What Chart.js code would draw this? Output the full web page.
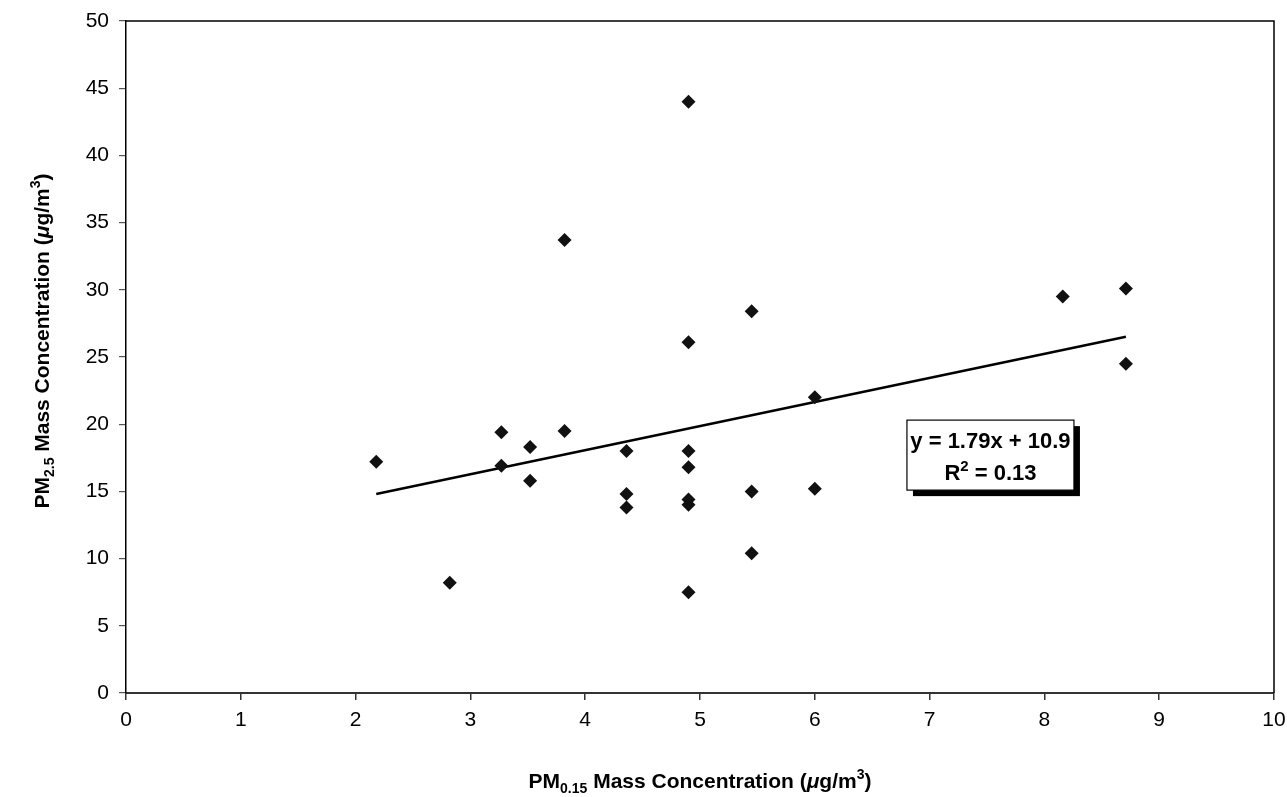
<!DOCTYPE html>
<html>
<head>
<meta charset="utf-8">
<script src="https://cdn.jsdelivr.net/npm/chart.js@4"></script>
<style>
  html, body { margin: 0; padding: 0; background: #fff; }
  #wrap { width: 1287px; height: 797px; }
</style>
</head>
<body>
<div id="wrap"><canvas id="PmChart"></canvas></div>
<script>
// PM0.15 vs PM2.5 mass concentration (ug/m3)
const pm015 = [2.18, 2.82, 3.27, 3.27, 3.52, 3.52, 3.82, 3.82, 4.36, 4.36, 4.36,
  4.90, 4.90, 4.90, 4.90, 4.90, 4.90, 4.90, 5.45, 5.45, 5.45, 6.00, 6.00, 8.16, 8.71, 8.71];
const pm25 = [17.2, 8.2, 19.4, 16.9, 18.3, 15.8, 33.7, 19.5, 18.0, 14.8, 13.8,
  44.0, 26.1, 18.0, 16.8, 14.4, 14.0, 7.5, 28.4, 15.0, 10.4, 22.0, 15.2, 29.5, 30.1, 24.5];

// linear fit y = 1.79x + 10.9, drawn over the data range
const trendX = [2.18, 8.71];
const trendY = [14.8, 26.5];
const fitLabel = "y = 1.79x + 10.9";
const r2Label = " = 0.13";

const xTicks = [0, 1, 2, 3, 4, 5, 6, 7, 8, 9, 10];
const yTicks = [0, 5, 10, 15, 20, 25, 30, 35, 40, 45, 50];

const fontFam = "'Liberation Sans', Arial, Helvetica, sans-serif";

// draws a run of text pieces, some as sub/superscript, centred on x
function drawRich(ctx, parts, cx, baseY, size) {
  const small = Math.round(size * 0.68);
  let total = 0;
  parts.forEach((p) => {
    const fs = p.s ? small : size;
    ctx.font = `${p.i ? "italic " : ""}bold ${fs}px ${fontFam}`;
    p.w = ctx.measureText(p.t).width;
    total += p.w;
  });
  let x = cx - total / 2;
  parts.forEach((p) => {
    const fs = p.s ? small : size;
    ctx.font = `${p.i ? "italic " : ""}bold ${fs}px ${fontFam}`;
    let y = baseY;
    if (p.s === "sub") y += size * 0.22;
    if (p.s === "sup") y -= size * 0.42;
    ctx.fillText(p.t, x, y);
    x += p.w;
  });
}

const extras = {
  id: "extras",
  afterDraw(chart) {
    const ctx = chart.ctx;
    const a = chart.chartArea;
    const xs = chart.scales.x;
    const ys = chart.scales.y;
    ctx.save();

    // plot frame, top and right
    ctx.strokeStyle = "#000";
    ctx.lineWidth = 1.5;
    ctx.beginPath();
    ctx.moveTo(a.left, a.top);
    ctx.lineTo(a.right, a.top);
    ctx.lineTo(a.right, a.bottom);
    ctx.stroke();

    ctx.fillStyle = "#000";
    ctx.textAlign = "left";
    ctx.textBaseline = "alphabetic";

    // x title
    drawRich(ctx, [
      { t: "PM" }, { t: "0.15", s: "sub" }, { t: " Mass Concentration (" },
      { t: "\u03bc", i: true }, { t: "g/m" }, { t: "3", s: "sup" }, { t: ")" },
    ], (a.left + a.right) / 2, 788, 21);

    // y title
    ctx.save();
    ctx.translate(49, 341);
    ctx.rotate(-Math.PI / 2);
    drawRich(ctx, [
      { t: "PM" }, { t: "2.5", s: "sub" }, { t: " Mass Concentration (" },
      { t: "\u03bc", i: true }, { t: "g/m" }, { t: "3", s: "sup" }, { t: ")" },
    ], 0, 0, 21);
    ctx.restore();

    // regression label box
    const cx = xs.getPixelForValue(7.53);
    const cy = ys.getPixelForValue(17.7);
    const bw = 167, bh = 70;
    const bx = cx - bw / 2, by = cy - bh / 2;
    ctx.fillStyle = "#000";
    ctx.fillRect(bx + 6, by + 6, bw, bh);
    ctx.fillStyle = "#fff";
    ctx.fillRect(bx, by, bw, bh);
    ctx.strokeStyle = "#000";
    ctx.lineWidth = 1.2;
    ctx.strokeRect(bx, by, bw, bh);
    ctx.fillStyle = "#000";
    drawRich(ctx, [{ t: fitLabel }], cx, by + 28, 22);
    drawRich(ctx, [{ t: "R" }, { t: "2", s: "sup" }, { t: r2Label }], cx, by + 60, 22);

    ctx.restore();
  },
};

const ctx = document.getElementById("PmChart");
const PmChart = new Chart(ctx, {
  type: "scatter",
  data: {
    datasets: [
      {
        label: "PM",
        data: pm015.map((x, i) => ({ x: x, y: pm25[i] })),
        pointStyle: "rectRot",
        pointRadius: 7,
        backgroundColor: "#111",
        borderColor: "#111",
        borderWidth: 0,
      },
      {
        label: "Fit",
        data: trendX.map((x, i) => ({ x: x, y: trendY[i] })),
        showLine: true,
        borderColor: "#000",
        borderWidth: 2.5,
        pointRadius: 0,
      },
    ],
  },
  options: {
    responsive: true,
    maintainAspectRatio: false,
    animation: false,
    layout: { padding: { top: 21, right: 13, left: 0, bottom: 0 } },
    plugins: {
      legend: { display: false },
      tooltip: { enabled: false },
    },
    scales: {
      x: {
        type: "linear",
        min: 0,
        max: 10,
        afterBuildTicks: (s) => { s.ticks = xTicks.map((v) => ({ value: v })); },
        afterFit: (s) => { s.height = 104; s.paddingLeft = 0; s.paddingRight = 0; },
        ticks: {
          color: "#000",
          padding: 8,
          font: { family: fontFam, size: 21 },
        },
        grid: { drawOnChartArea: false, drawTicks: true, tickLength: 7, color: "#333", lineWidth: 1.5 },
        border: { display: true, color: "#333", width: 2 },
      },
      y: {
        type: "linear",
        min: 0,
        max: 50,
        afterBuildTicks: (s) => { s.ticks = yTicks.map((v) => ({ value: v })); },
        afterFit: (s) => { s.width = 126; s.paddingTop = 0; s.paddingBottom = 0; },
        ticks: {
          color: "#000",
          padding: 10,
          font: { family: fontFam, size: 21 },
        },
        grid: { drawOnChartArea: false, drawTicks: true, tickLength: 7, color: "#555", lineWidth: 1.2 },
        border: { display: true, color: "#000", width: 1.5 },
      },
    },
  },
  plugins: [extras],
});
</script>
</body>
</html>
